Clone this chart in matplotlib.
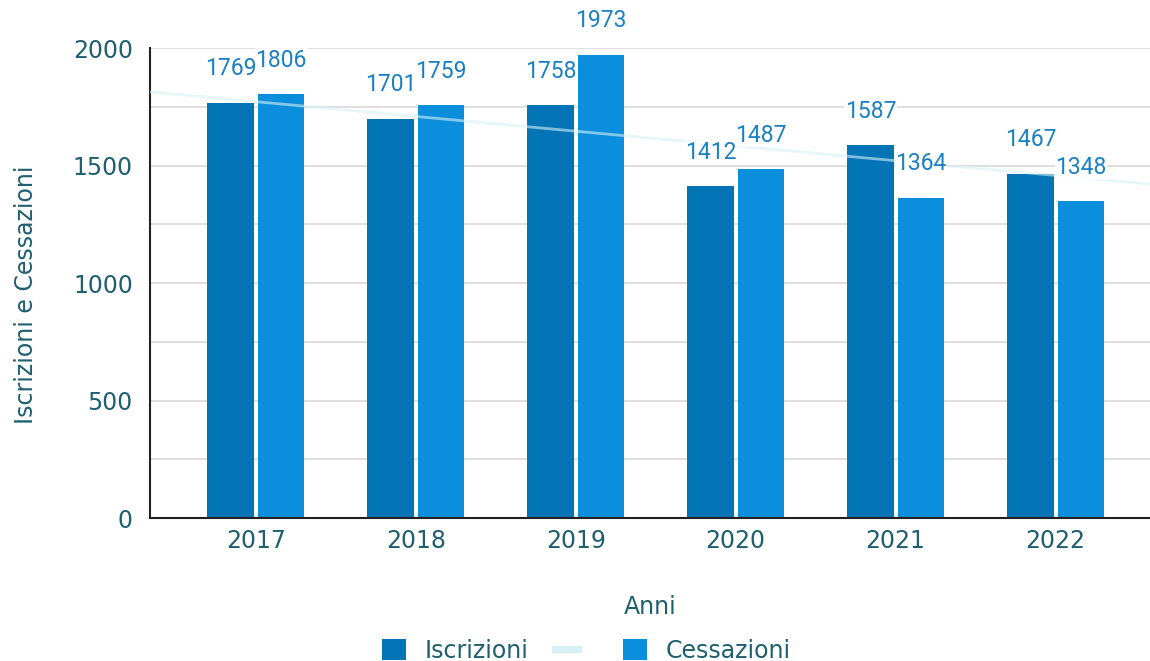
import numpy as np
import matplotlib.pyplot as plt
from matplotlib.patches import Patch
from matplotlib.lines import Line2D

# Iscrizioni e cessazioni per anno
anni = ['2017', '2018', '2019', '2020', '2021', '2022']
iscrizioni = [1769, 1701, 1758, 1412, 1587, 1467]
cessazioni = [1806, 1759, 1973, 1487, 1364, 1348]

colIsc = '#0374b6'
colCes = '#0b8edc'
colText = '#1e5f70'
colLab = '#1a80c4'
colTrend = '#d6f0f5'

fig = plt.figure(figsize=(11.5, 6.61), dpi=100)
ax = fig.add_axes([0.130, 0.216, 0.870, 0.711])

x = np.arange(len(anni))
w = 0.29
gap = 0.013

b1 = ax.bar(x - w/2 - gap, iscrizioni, width=w, color=colIsc, zorder=2)
b2 = ax.bar(x + w/2 + gap, cessazioni, width=w, color=colCes, zorder=2)

# Linear trend on Iscrizioni
xlim = (-0.665, 5.59)
fit = np.polyfit(x, iscrizioni, 1)
xt = np.array(xlim)
ax.plot(xt, np.polyval(fit, xt), color=colTrend, lw=2, alpha=0.6, zorder=3)

# Value labels
for bars, vals in [(b1, iscrizioni), (b2, cessazioni)]:
    for b, v in zip(bars, vals):
        ax.annotate(str(v), (b.get_x() + b.get_width()/2, v), xytext=(0, 16),
                    textcoords='offset points', ha='center', va='bottom',
                    fontsize=16.5, color=colLab, family='Roboto', zorder=4,
                    bbox=dict(facecolor='white', edgecolor='none', pad=0.5, alpha=0.85))

ax.set_xlim(*xlim)
ax.set_ylim(0, 2000)
ax.set_yticks([0, 500, 1000, 1500, 2000])
ax.set_yticks(np.arange(0, 2001, 250), minor=True)
ax.grid(axis='y', which='both', color='#d9d9d9', lw=1.2, zorder=0)
ax.tick_params(axis='y', which='both', length=0, pad=12, labelsize=17, labelcolor=colText)
ax.tick_params(axis='x', length=0, pad=8, labelsize=17, labelcolor=colText)
ax.set_xticks(x)
ax.set_xticklabels(anni)

for s in ['top', 'right']:
    ax.spines[s].set_visible(False)
ax.spines['left'].set_color('#222222')
ax.spines['bottom'].set_color('#222222')
ax.spines['left'].set_linewidth(1.5)
ax.spines['bottom'].set_linewidth(1.5)

ax.set_ylabel('Iscrizioni e Cessazioni', fontsize=17, color=colText)
ax.yaxis.set_label_coords(-0.111, 0.475)
ax.set_xlabel('Anni', fontsize=17, color=colText, labelpad=30)

handles = [Patch(facecolor=colIsc), Line2D([], [], color=colTrend, lw=5), Patch(facecolor=colCes)]
fig.legend(handles, ['Iscrizioni', '', 'Cessazioni'], loc='lower center', ncol=3,
           bbox_to_anchor=(0.51, -0.035), frameon=False, handlelength=1.0, handleheight=1.0,
           columnspacing=1.1, handletextpad=0.8,
           prop={'size': 17}, labelcolor=colText)

fig.savefig('out.png', dpi=100)
